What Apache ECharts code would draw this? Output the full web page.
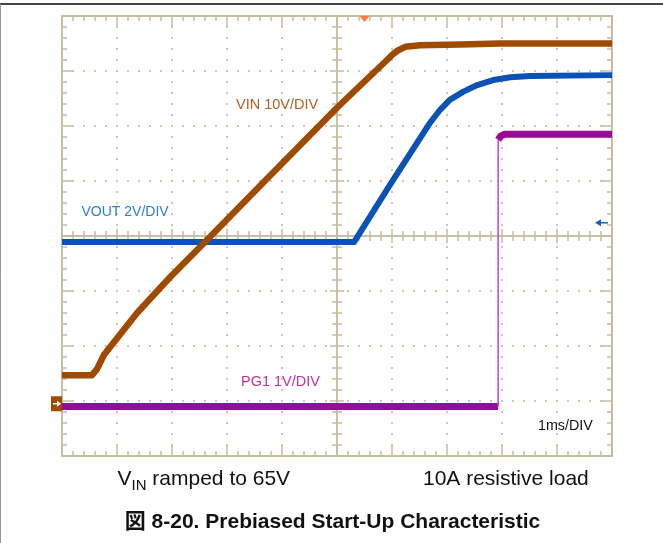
<!DOCTYPE html>
<html><head><meta charset="utf-8">
<script src="https://cdn.jsdelivr.net/npm/echarts@6/dist/echarts.min.js"></script>
<style>html,body{margin:0;padding:0;background:#fff;}#c{width:663px;height:543px;}</style>
</head><body><div id="c"></div>
<script>
// ---- data (time in ms, voltages in V) ----
const timeVin  = [0, 0.545, 0.636, 0.764, 1.364, 1.964, 2.6, 3.727, 5.018, 5.909, 6.0, 6.1, 6.24, 6.51, 7.24, 7.96, 10];
const vinVolts = [5.2, 5.2, 6.3, 8.9, 16.5, 23.0, 29.4, 40.9, 54.0, 62.5, 63.4, 64.2, 64.9, 65.2, 65.3, 65.5, 65.5];
const timeVout  = [0, 5.31, 5.96, 6.69, 6.87, 7.05, 7.29, 7.55, 7.84, 8.15, 8.51, 10];
const voutVolts = [5.88, 5.88, 7.95, 10.21, 10.68, 11.05, 11.34, 11.59, 11.77, 11.87, 11.92, 11.95];
const timePg  = [0, 7.93, 7.93, 7.98, 8.05, 10];
const pgVolts = [-0.05, -0.05, 4.8, 4.87, 4.9, 4.9];
// scope settings
const voltsPerDiv = { vin: 10, vout: 2, pg: 1 };
const groundDiv = 0.95;       // channel ground reference (divisions from bottom)
const triggerTime = 5.5;      // ms
const voutMarkerDiv = 4.24;   // right-side channel marker
const xTicks = [0, 10, 1];    // min, max, interval (1 ms/div)
const yTicks = [0, 8, 1];     // divisions

function toDiv(times, volts, scale) {
  return times.map((t, i) => [t, groundDiv + volts[i] / scale]);
}
const vinData = toDiv(timeVin, vinVolts, voltsPerDiv.vin);
const voutData = toDiv(timeVout, voutVolts, voltsPerDiv.vout);
const pgData = toDiv(timePg, pgVolts, voltsPerDiv.pg);
let edge = 1;
for (let i = 1; i < timePg.length; i++) if (timePg[i] === timePg[i - 1]) { edge = i; break; }
const pgLow = pgData.slice(0, edge);
const pgEdge = pgData.slice(edge - 1, edge + 1);
const pgHigh = pgData.slice(edge);

const gridCol = '#c4bf9f';
const chart = echarts.init(document.getElementById('c'), null, { renderer: 'canvas' });

function ax(kind, pos, offset, major, minor, lw, split) {
  const r = kind === 'x' ? xTicks : yTicks;
  return {
    type: 'value', min: r[0], max: r[1], interval: r[2], position: pos, offset: offset,
    axisLine: { show: true, onZero: false, lineStyle: { color: gridCol, width: lw } },
    axisTick: { show: true, inside: true, length: major, lineStyle: { color: gridCol, width: 1.5 } },
    minorTick: { show: true, splitNumber: 5, length: minor, lineStyle: { color: gridCol, width: 1.5 } },
    axisLabel: { show: false },
    splitLine: split ? { show: true, lineStyle: { color: '#cdc8ab', width: 2, type: [2, 9], dashOffset: 1 } } : { show: false },
    minorSplitLine: { show: false }
  };
}

const line = (data, color, width, z) => ({
  type: 'line', data: data, showSymbol: false, symbol: 'none', animation: false, smooth: false,
  lineStyle: { color: color, width: width, join: 'round', cap: 'butt' }, z: z, clip: true
});

chart.setOption({
  animation: false,
  backgroundColor: '#ffffff',
  grid: { left: 62, top: 16, width: 550, height: 440, containLabel: false },
  xAxis: [
    ax('x', 'bottom', 0, 11, 5, 2, true),
    ax('x', 'top', 0, 11, 5, 2, false),
    ax('x', 'bottom', -220, 7, 5, 1.5, false),
    ax('x', 'top', -220, 7, 5, 1.5, false)
  ],
  yAxis: [
    ax('y', 'left', 0, 11, 5, 2, true),
    ax('y', 'right', 0, 11, 5, 2, false),
    ax('y', 'left', -275, 7, 5, 1.5, false),
    ax('y', 'right', -275, 7, 5, 1.5, false)
  ],
  series: [
    line(voutData, '#0a52b5', 6, 3),
    line(pgLow, '#9a0a98', 7, 4),
    line(pgEdge, '#c840c8', 1.5, 4),
    line(pgHigh, '#9a0a98', 7, 4),
    line(vinData, '#9e4b00', 6.5, 5)
  ]
});

// annotations
const gy = chart.convertToPixel({ yAxisIndex: 0 }, groundDiv);
const tx = chart.convertToPixel({ xAxisIndex: 0 }, triggerTime);
const my = chart.convertToPixel({ yAxisIndex: 0 }, voutMarkerDiv);
const gl = 62, gt = 16, gr = 612;

const ctx = document.createElement('canvas').getContext('2d');
const mainFont = '21px "Liberation Sans", Arial, sans-serif';
const subFont = '15px "Liberation Sans", Arial, sans-serif';
ctx.font = mainFont; const wV = ctx.measureText('V').width;
ctx.font = subFont; const wIN = ctx.measureText('IN').width;

const txt = (text, x, y, font, fill, align) => ({
  type: 'text', z: 20, style: { text: text, x: x, y: y, font: font, fill: fill, align: align || 'left', verticalAlign: 'middle' }
});

chart.setOption({
  graphic: [
    { type: 'line', z: 30, shape: { x1: 0, y1: 4, x2: 663, y2: 4 }, style: { stroke: '#444', lineWidth: 2 } },
    { type: 'line', z: 30, shape: { x1: 0.5, y1: 4, x2: 0.5, y2: 543 }, style: { stroke: '#999', lineWidth: 1 } },
    // ground marker
    { type: 'rect', z: 20, shape: { x: gl - 11, y: gy - 7.5, width: 11, height: 15 }, style: { fill: '#9e4b00' } },
    { type: 'line', z: 21, shape: { x1: gl - 9, y1: gy, x2: gl - 2, y2: gy }, style: { stroke: '#fff', lineWidth: 1.5 } },
    { type: 'polygon', z: 21, shape: { points: [[gl - 1, gy], [gl - 5, gy - 3], [gl - 5, gy + 3]] }, style: { fill: '#fff' } },
    // trigger marker
    { type: 'polygon', z: 21, shape: { points: [[tx - 5, gt], [tx + 5, gt], [tx, gt + 6]] }, style: { fill: '#ff7a45' } },
    // vout marker arrow
    { type: 'line', z: 21, shape: { x1: gr - 14, y1: my, x2: gr - 4, y2: my }, style: { stroke: '#1a5fc0', lineWidth: 1.5 } },
    { type: 'polygon', z: 21, shape: { points: [[gr - 17, my], [gr - 11, my - 3.5], [gr - 11, my + 3.5]] }, style: { fill: '#1a5fc0' } },
    // channel labels
    txt('VIN 10V/DIV', 236, 105, '14.5px "Liberation Sans", Arial, sans-serif', '#b0602a'),
    txt('VOUT 2V/DIV', 81.5, 212.5, '14px "Liberation Sans", Arial, sans-serif', '#2d7fd2'),
    txt('PG1 1V/DIV', 241, 381.5, '14.5px "Liberation Sans", Arial, sans-serif', '#c4309f'),
    txt('1ms/DIV', 538, 426.5, '14.3px "Liberation Sans", Arial, sans-serif', '#111'),
    // captions
    txt('V', 117.5, 479, mainFont, '#111'),
    txt('IN', 117.5 + wV, 486, subFont, '#111'),
    txt(' ramped to 65V', 117.5 + wV + wIN, 479, mainFont, '#111'),
    txt('10A resistive load', 423, 479, mainFont, '#111'),
    txt('図 8-20. Prebiased Start-Up Characteristic', 332.5, 522, 'bold 21px "Liberation Sans", "Noto Sans CJK JP", Arial, sans-serif', '#111', 'center')
  ]
});
</script></body></html>
